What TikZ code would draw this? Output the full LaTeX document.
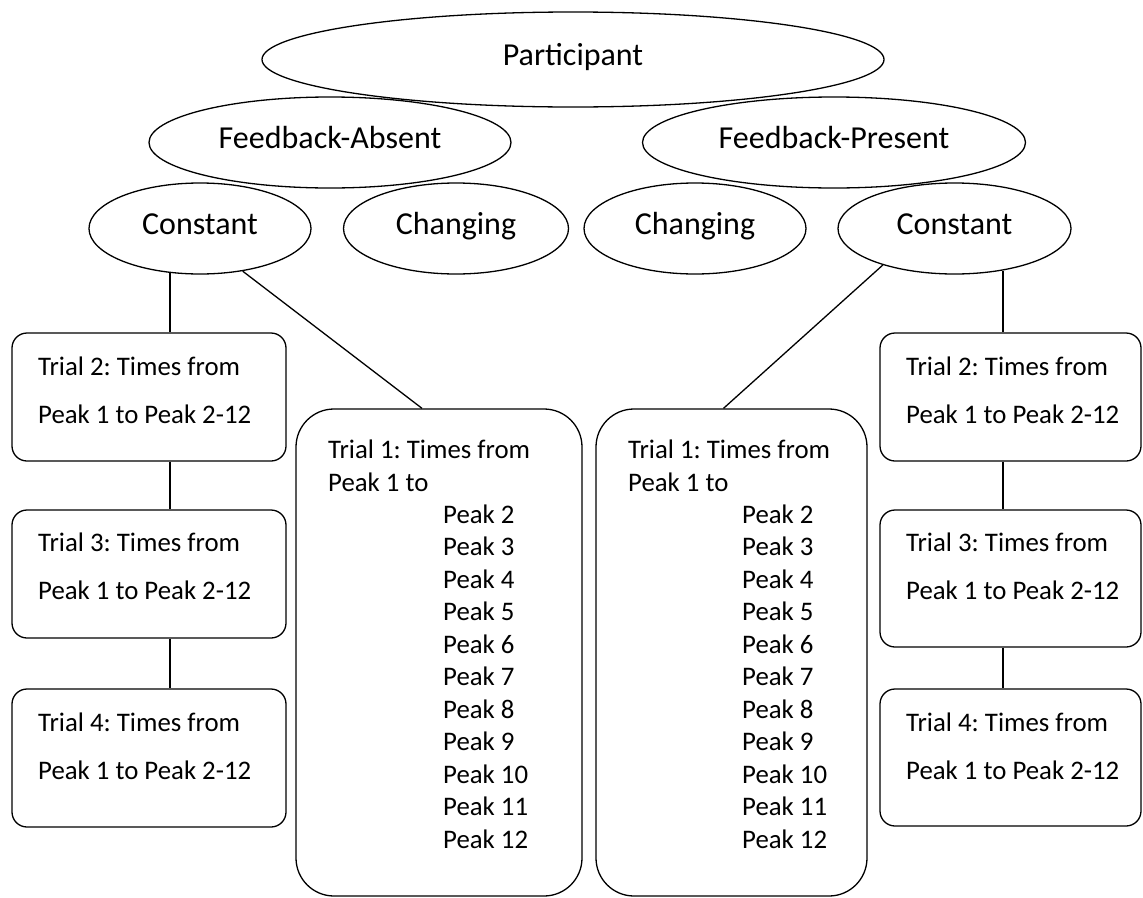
\documentclass[tikz,border=0pt]{standalone}
\usepackage{fontspec}
\setmainfont{Carlito}
\usetikzlibrary{shapes.geometric}
\frenchspacing

\tikzset{
  oval/.style={ellipse,draw,line width=1.3pt,inner sep=0pt,text height=22pt,text depth=11pt,
    font=\fontsize{32pt}{38pt}\selectfont},
  trialbox/.style={rectangle,draw,line width=1.3pt,rounded corners=15pt,inner sep=0pt},
  longbox/.style={trialbox,rounded corners=38pt},
  boxtext/.style={anchor=base west,inner sep=0pt,font=\fontsize{26.8pt}{32pt}\selectfont},
  link/.style={line width=1.3pt}
}

\begin{document}
\begin{tikzpicture}[x=1pt,y=-1pt]
\useasboundingbox (0,0) rectangle (1143,897);

% Top levels: participant and feedback groups
\node[oval,minimum width=622pt,minimum height=95pt] (part) at (573,59.5) {Participant};
\node[oval,minimum width=362pt,minimum height=91pt] (fbA) at (330,142.5) {Feedback-Absent};
\node[oval,minimum width=383pt,minimum height=91pt] (fbP) at (834,142.5) {Feedback-Present};

% Conditions
\node[oval,minimum width=222pt,minimum height=91pt] (consL) at (200,228.5) {Constant};
\node[oval,minimum width=225pt,minimum height=91pt] (chgL) at (456,228.5) {Changing};
\node[oval,minimum width=222pt,minimum height=91pt] (chgR) at (695,228.5) {Changing};
\node[oval,minimum width=233pt,minimum height=91pt] (consR) at (954.5,228.5) {Constant};

% Left column of trials
\node[trialbox,minimum width=274pt,minimum height=128pt] (t2L) at (149,397) {};
\node[trialbox,minimum width=274pt,minimum height=128pt] (t3L) at (149,574) {};
\node[trialbox,minimum width=274pt,minimum height=138pt] (t4L) at (149,758) {};
\foreach \t/\y in {2/375,3/551.5,4/731} {
  \node[boxtext] (txL\t a) at (38,\y) {Trial \t: Times from};
  \node[boxtext] (txL\t b) at (38,{\y+48}) {Peak 1 to Peak 2-12};
}

% Right column of trials
\node[trialbox,minimum width=261pt,minimum height=128pt] (t2R) at (1010.5,397) {};
\node[trialbox,minimum width=261pt,minimum height=137pt] (t3R) at (1010.5,578.5) {};
\node[trialbox,minimum width=261pt,minimum height=137pt] (t4R) at (1010.5,757.5) {};
\foreach \t/\y in {2/375,3/551.5,4/731} {
  \node[boxtext] (txR\t a) at (906,\y) {Trial \t: Times from};
  \node[boxtext] (txR\t b) at (906,{\y+48}) {Peak 1 to Peak 2-12};
}

% Trial 1 boxes with the peak list
\node[longbox,minimum width=286pt,minimum height=487pt] (t1L) at (439,652.5) {};
\node[boxtext] (t1La) at (328,458) {Trial 1: Times from};
\node[boxtext] (t1Lb) at (328,491) {Peak 1 to};
\foreach \n in {2,...,12}
  \node[boxtext] (pkL\n) at (443,{523+32.5*(\n-2)}) {Peak \n};

\node[longbox,minimum width=271pt,minimum height=487pt] (t1R) at (731.5,652.5) {};
\node[boxtext] (t1Ra) at (628,458) {Trial 1: Times from};
\node[boxtext] (t1Rb) at (628,491) {Peak 1 to};
\foreach \n in {2,...,12}
  \node[boxtext] (pkR\n) at (742,{523+32.5*(\n-2)}) {Peak \n};

% Connectors
\draw[link] (consL.-124) -- (consL.-124 |- t2L.north);
\draw[link] (t2L.south -| consL.-124) -- (t3L.north -| consL.-124);
\draw[link] (t3L.south -| consL.-124) -- (t4L.north -| consL.-124);
\draw[link] (consL.-45) -- ([xshift=-17pt]t1L.north);

\draw[link] (consR.-41) -- (consR.-41 |- t2R.north);
\draw[link] (t2R.south -| consR.-41) -- (t3R.north -| consR.-41);
\draw[link] (t3R.south -| consR.-41) -- (t4R.north -| consR.-41);
\draw[link] (consR.-153) -- ([xshift=-8pt]t1R.north);
\end{tikzpicture}
\end{document}
